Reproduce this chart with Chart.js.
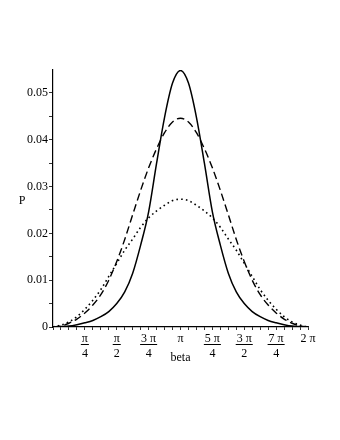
<!DOCTYPE html>
<html>
<head>
<meta charset="utf-8">
<script src="https://cdn.jsdelivr.net/npm/chart.js@4"></script>
<style>
  html, body { margin: 0; padding: 0; background: #fff; }
  canvas { display: block; }
</style>
</head>
<body>
<canvas id="chart" width="340" height="440"></canvas>
<script>
// beta grid: steps of pi/16 from 0 to 2 pi
const betaSteps = [0,1,2,3,4,5,6,7,8,9,10,11,12,13,14,15,16,17,18,19,20,21,22,23,24,25,26,27,28,29,30,31,32];
const beta = betaSteps.map(k => k * Math.PI / 16);

// P values
const solidP = [0, 0.0001, 0.0002, 0.0005, 0.0009, 0.0014, 0.0022, 0.0033, 0.0050, 0.0075, 0.0115, 0.0175, 0.0246, 0.0350, 0.0448, 0.0521,
                0.0548,
                0.0521, 0.0448, 0.0350, 0.0246, 0.0175, 0.0115, 0.0075, 0.0050, 0.0033, 0.0022, 0.0014, 0.0009, 0.0005, 0.0002, 0.0001, 0];
const dashedP = [0, 0.0002, 0.0008, 0.0017, 0.0030, 0.0047, 0.0069, 0.0100, 0.0140, 0.0187, 0.0240, 0.0292, 0.0340, 0.0381, 0.0415, 0.0438,
                 0.0446,
                 0.0438, 0.0415, 0.0381, 0.0340, 0.0292, 0.0240, 0.0187, 0.0140, 0.0100, 0.0069, 0.0047, 0.0030, 0.0017, 0.0008, 0.0002, 0];
const dottedP = [0, 0.0004, 0.0011, 0.0022, 0.0038, 0.0057, 0.0080, 0.0108, 0.0136, 0.0164, 0.0188, 0.0213, 0.0233, 0.0248, 0.0260, 0.0270,
                 0.0273,
                 0.0270, 0.0260, 0.0248, 0.0233, 0.0213, 0.0188, 0.0164, 0.0136, 0.0108, 0.0080, 0.0057, 0.0038, 0.0022, 0.0011, 0.0004, 0];

// tick labels
const yTicks = [0, 0.005, 0.01, 0.015, 0.02, 0.025, 0.03, 0.035, 0.04, 0.045, 0.05];
const yTickLabels = ['0', '', '0.01', '', '0.02', '', '0.03', '', '0.04', '', '0.05'];
// labelled every pi/4: [numerator, denominator] or a single string
const xTickLabels = {
  4: ['π', '4'], 8: ['π', '2'], 12: ['3 π', '4'], 16: 'π',
  20: ['5 π', '4'], 24: ['3 π', '2'], 28: ['7 π', '4'], 32: '2 π'
};

const FONT = '"Liberation Serif", "DejaVu Serif", serif';

// fraction bars under numerators, and the axis titles
const extras = {
  id: 'extras',
  afterDraw(chart) {
    const ctx = chart.ctx;
    const xs = chart.scales.x;
    const area = chart.chartArea;
    ctx.save();
    ctx.font = '12px ' + FONT;
    ctx.strokeStyle = '#000';
    ctx.lineWidth = 1;
    Object.keys(xTickLabels).forEach(k => {
      const lab = xTickLabels[k];
      if (!Array.isArray(lab)) return;
      const px = xs.getPixelForValue(beta[k]);
      const w = Math.max(ctx.measureText(lab[0]).width, ctx.measureText(lab[1]).width) + 2;
      const y = Math.round(area.bottom + 17) + 0.5;
      ctx.beginPath();
      ctx.moveTo(px - w / 2, y);
      ctx.lineTo(px + w / 2, y);
      ctx.stroke();
    });
    ctx.fillStyle = '#000';
    ctx.textAlign = 'center';
    ctx.textBaseline = 'middle';
    ctx.fillText('beta', (area.left + area.right) / 2, area.bottom + 31);
    ctx.fillText('P', 22, (area.top + area.bottom) / 2 + 2);
    ctx.restore();
  }
};

new Chart(document.getElementById('chart'), {
  type: 'line',
  data: {
    datasets: [
      {
        label: 'solid',
        data: beta.map((b, i) => ({ x: b, y: solidP[i] })),
        borderColor: '#000',
        borderWidth: 1.5,
        pointRadius: 0,
        cubicInterpolationMode: 'monotone'
      },
      {
        label: 'dashed',
        data: beta.map((b, i) => ({ x: b, y: dashedP[i] })),
        borderColor: '#000',
        borderWidth: 1.4,
        borderDash: [7.5, 4],
        pointRadius: 0,
        cubicInterpolationMode: 'monotone'
      },
      {
        label: 'dotted',
        data: beta.map((b, i) => ({ x: b, y: dottedP[i] })),
        borderColor: '#000',
        borderWidth: 1.6,
        borderDash: [1.6, 3.2],
        pointRadius: 0,
        cubicInterpolationMode: 'monotone'
      }
    ]
  },
  options: {
    responsive: false,
    animation: false,
    events: [],
    layout: { padding: { left: 0, top: 70, right: 32, bottom: 68 } },
    plugins: {
      legend: { display: false },
      tooltip: { enabled: false }
    },
    scales: {
      x: {
        type: 'linear',
        min: 0,
        max: 2 * Math.PI,
        afterBuildTicks: (scale) => { scale.ticks = beta.map(v => ({ value: v })); },
        afterFit: (scale) => { scale.height = 45; },
        border: { display: true, color: '#000', width: 1.2 },
        grid: { display: true, drawOnChartArea: false, drawTicks: true, tickLength: 3, color: '#000', lineWidth: 0.8 },
        ticks: {
          autoSkip: false,
          maxRotation: 0,
          padding: 2,
          color: '#000',
          font: { family: FONT, size: 12, lineHeight: 1.2 },
          callback: (v, i) => xTickLabels[i] || ''
        }
      },
      y: {
        type: 'linear',
        min: 0,
        max: 0.0549,
        afterBuildTicks: (scale) => { scale.ticks = yTicks.map(v => ({ value: v })); },
        afterFit: (scale) => { scale.width = 53; },
        border: { display: true, color: '#000', width: 1.2 },
        grid: { display: true, drawOnChartArea: false, drawTicks: true, tickLength: 4, color: '#000', lineWidth: 0.8 },
        ticks: {
          padding: 1,
          color: '#000',
          font: { family: FONT, size: 12 },
          callback: (v, i) => yTickLabels[i]
        }
      }
    }
  },
  plugins: [extras]
});
</script>
</body>
</html>
